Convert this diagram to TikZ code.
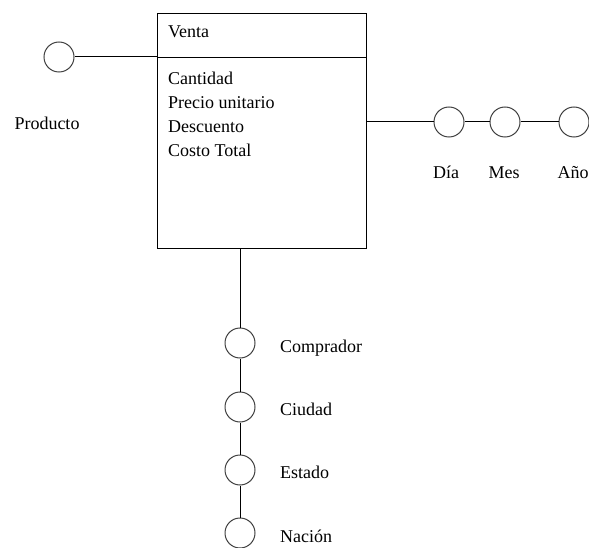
\documentclass[tikz,border=0pt]{standalone}
\usepackage{fontspec}
\setmainfont{Liberation Serif}
\usepackage{tikz}
\usetikzlibrary{calc,positioning}
\tikzset{
    % circulo de dimension
    dimcirc/.style={
        circle,
        draw=black!75,
        line width=1pt,
        minimum size=30pt,
        inner sep=0pt
    },
    enlace/.style={
        line width=1pt,
        black
    },
    etiqueta/.style={
        font=\fontsize{18}{24}\selectfont,
        inner sep=0pt
    }
}

\begin{document}
\begin{tikzpicture}[x=1pt, y=-1pt]
        \useasboundingbox (0,0) rectangle (589,548);

        \node[draw, line width=1pt, minimum width=209pt, minimum height=235pt,
              anchor=north west, inner sep=0pt] (venta) at (157,13) {};
        \draw[enlace] ($(venta.north west)+(0,45)$) coordinate (div1)
              -- ($(venta.north east)+(0,45)$) coordinate (div2);

        \node[etiqueta, anchor=base west] (titulo) at (168,38) {Venta};
        \node[etiqueta, anchor=base west] (at1) at (168,85) {Cantidad};
        \node[etiqueta, anchor=base west] (at2) at (168,109) {Precio unitario};
        \node[etiqueta, anchor=base west] (at3) at (168,133) {Descuento};
        \node[etiqueta, anchor=base west] (at4) at (168,157) {Costo Total};

        % producto
        \node[dimcirc] (prod) at (59,57) {};
        \node[etiqueta, anchor=base] (lprod) at (47,130) {Producto};
        \draw[enlace] (prod) -- (prod -| venta.west);

        % tiempo
        \node[dimcirc] (dia) at (449,122) {};
        \node[dimcirc] (mes) at (505,122) {};
        \node[dimcirc] (anio) at (574,122) {};
        \node[etiqueta, anchor=base] (ldia) at (446,179) {Día};
        \node[etiqueta, anchor=base] (lmes) at (504,179) {Mes};
        \node[etiqueta, anchor=base] (lanio) at (573,179) {Año};
        \draw[enlace] (venta.east |- dia) -- (dia);
        \draw[enlace] (dia) -- (mes);
        \draw[enlace] (mes) -- (anio);

        % comprador
        \node[dimcirc] (comp) at (240,343) {};
        \node[dimcirc] (ciud) at (240,407) {};
        \node[dimcirc] (edo) at (240,470) {};
        \node[dimcirc] (nac) at (240,533) {};
        \node[etiqueta, anchor=base west] (lcomp) at (280,352) {Comprador};
        \node[etiqueta, anchor=base west] (lciud) at (280,415) {Ciudad};
        \node[etiqueta, anchor=base west] (ledo) at (280,478) {Estado};
        \node[etiqueta, anchor=base west] (lnac) at (280,542) {Nación};
        \draw[enlace] (venta.south -| comp) -- (comp);
        \draw[enlace] (comp) -- (ciud);
        \draw[enlace] (ciud) -- (edo);
        \draw[enlace] (edo) -- (nac);
\end{tikzpicture}
\end{document}
